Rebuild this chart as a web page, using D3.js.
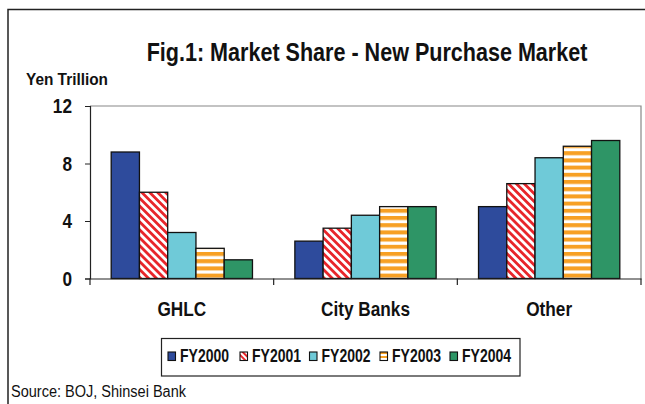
<!DOCTYPE html>
<html>
<head>
<meta charset="utf-8">
<script src="https://cdn.jsdelivr.net/npm/d3@7"></script>
<style>
  html, body { margin: 0; padding: 0; background: #fff; }
  svg { display: block; }
  text { font-family: "Liberation Sans Narrow", "Arial Narrow", "Liberation Sans", Arial, sans-serif; }
</style>
</head>
<body>
<svg id="chart" width="645" height="404"></svg>
<script>
const categories = ["GHLC", "City Banks", "Other"];
const seriesNames = ["FY2000", "FY2001", "FY2002", "FY2003", "FY2004"];
const FY2000 = [8.8, 2.6, 5.0];
const FY2001 = [6.0, 3.5, 6.6];
const FY2002 = [3.2, 4.4, 8.4];
const FY2003 = [2.1, 5.0, 9.2];
const FY2004 = [1.3, 5.0, 9.6];
const yTicks = [0, 4, 8, 12];
const titleText = "Fig.1: Market Share - New Purchase Market";
const yAxisTitle = "Yen Trillion";
const sourceText = "Source: BOJ, Shinsei Bank";

const seriesValues = [FY2000, FY2001, FY2002, FY2003, FY2004];
const fills = ["#2E4B9C", "url(#hatchRed)", "#6FCAD8", "url(#hatchOrange)", "#2E9566"];
const swatchFills = ["#2E4B9C", "url(#hatchRedS)", "#6FCAD8", "url(#hatchOrangeS)", "#2E9566"];
const FONT = '"Liberation Sans Narrow", "Arial Narrow", "Liberation Sans", Arial, sans-serif';

const svg = d3.select("#chart");
const defs = svg.append("defs");

// condense text horizontally (narrow face not installed)
function squeeze(sel, ratio) {
  sel.each(function () {
    const w = this.getComputedTextLength();
    d3.select(this).attr("textLength", w * ratio).attr("lengthAdjust", "spacingAndGlyphs");
  });
}

function redHatch(id, period, w) {
  const p = defs.append("pattern").attr("id", id).attr("patternUnits", "userSpaceOnUse")
    .attr("width", period).attr("height", period).attr("patternTransform", "rotate(-45)");
  p.append("rect").attr("width", period).attr("height", period).attr("fill", "#fff");
  p.append("rect").attr("x", 0).attr("width", w).attr("height", period).attr("fill", "#E8262B");
}
function orangeHatch(id, period, w) {
  const p = defs.append("pattern").attr("id", id).attr("patternUnits", "userSpaceOnUse")
    .attr("width", period).attr("height", period);
  p.append("rect").attr("width", period).attr("height", period).attr("fill", "#fff");
  p.append("rect").attr("y", 0).attr("width", period).attr("height", w).attr("fill", "#F7A024");
}
redHatch("hatchRed", 5.6, 2.8);
orangeHatch("hatchOrange", 7.2, 4);
redHatch("hatchRedS", 4, 2);
orangeHatch("hatchOrangeS", 4, 2);

// outer frame
svg.append("rect").attr("x", 8).attr("y", 9.5).attr("width", 660).attr("height", 420)
  .attr("fill", "none").attr("stroke", "#222").attr("stroke-width", 1.5);

const pLeft = 90, pRight = 641, pTop = 106, pBottom = 278.5;
const x0 = d3.scaleBand().domain(categories).range([pLeft, pRight]).padding(0);
const x1 = d3.scaleBand().domain(seriesNames).range([0, x0.bandwidth()]).paddingInner(0).paddingOuter(0.75);
const y = d3.scaleLinear().domain([0, 12]).range([pBottom, pTop]);

// plot area frame (top & right in grey)
svg.append("path").attr("d", `M${pLeft},${pTop}H${pRight}V${pBottom}`).attr("fill", "none")
  .attr("stroke", "#888").attr("stroke-width", 1.2);

// bars
const groups = svg.append("g").selectAll("g").data(categories).join("g")
  .attr("transform", d => `translate(${x0(d)},0)`);
groups.selectAll("rect")
  .data((c, ci) => seriesNames.map((s, si) => ({ s, si, v: seriesValues[si][ci] })))
  .join("rect")
  .attr("x", d => x1(d.s))
  .attr("y", d => y(d.v))
  .attr("width", x1.bandwidth())
  .attr("height", d => y(0) - y(d.v))
  .attr("fill", d => fills[d.si])
  .attr("stroke", "#111").attr("stroke-width", 1.3);

// y axis
const yAxis = d3.axisLeft(y).tickValues(yTicks).tickSize(5).tickPadding(13).tickFormat(d3.format("d"));
const gy = svg.append("g").attr("transform", `translate(${pLeft},0)`).call(yAxis);
gy.select(".domain").attr("stroke", "#222").attr("stroke-width", 1.2);
gy.selectAll(".tick line").attr("stroke", "#222");
gy.selectAll(".tick text").attr("font-size", 20).attr("font-weight", "bold").attr("fill", "#111")
  .attr("dy", "0.34em").style("font-family", FONT).call(squeeze, 0.86);

// x axis
const xAxis = d3.axisBottom(x0).tickSize(0).tickPadding(23);
const gx = svg.append("g").attr("transform", `translate(0,${pBottom})`).call(xAxis);
gx.select(".domain").attr("stroke", "#222").attr("stroke-width", 1.2);
gx.selectAll(".tick text").attr("font-size", 20).attr("font-weight", "bold").attr("fill", "#111")
  .style("font-family", FONT).call(squeeze, 0.86);
const seps = [pLeft].concat(categories.map(c => x0(c) + x0.bandwidth()));
gx.selectAll("line.sep").data(seps).join("line").attr("class", "sep")
  .attr("x1", d => d).attr("x2", d => d).attr("y1", 0).attr("y2", 6.5)
  .attr("stroke", "#222").attr("stroke-width", 1.2);

// title (horizontally condensed via transform)
const titleEl = svg.append("text").attr("text-anchor", "middle")
  .attr("font-size", 25).attr("font-weight", "bold").attr("fill", "#111").text(titleText);
const titleW = titleEl.node().getComputedTextLength();
titleEl.attr("transform", `translate(367,61) scale(${441 / titleW},1)`);

svg.append("text").attr("x", 26).attr("y", 85).attr("font-size", 17).attr("font-weight", "bold")
  .attr("fill", "#111").text(yAxisTitle)
  .attr("textLength", 82).attr("lengthAdjust", "spacingAndGlyphs");

// legend
const legend = svg.append("g");
legend.append("rect").attr("x", 161.5).attr("y", 338.5).attr("width", 358.5).attr("height", 37.5)
  .attr("fill", "#fff").attr("stroke", "#222").attr("stroke-width", 1.2);
const legX = [168, 240, 309.5, 380, 450];
const items = legend.selectAll("g.item").data(seriesNames).join("g").attr("class", "item")
  .attr("transform", (d, i) => `translate(${legX[i]},0)`);
items.append("rect").attr("x", 0).attr("y", 352).attr("width", 7.5).attr("height", 8.5)
  .attr("fill", (d, i) => swatchFills[i]).attr("stroke", "#111").attr("stroke-width", 1.1);
items.append("text").attr("x", 12).attr("y", 361.5).attr("font-size", 18).attr("font-weight", "bold")
  .attr("fill", "#111").text(d => d)
  .attr("textLength", 49).attr("lengthAdjust", "spacingAndGlyphs");

// source
svg.append("text").attr("x", 11).attr("y", 397).attr("font-size", 16).attr("fill", "#111").text(sourceText)
  .attr("textLength", 175).attr("lengthAdjust", "spacingAndGlyphs");
</script>
</body>
</html>
